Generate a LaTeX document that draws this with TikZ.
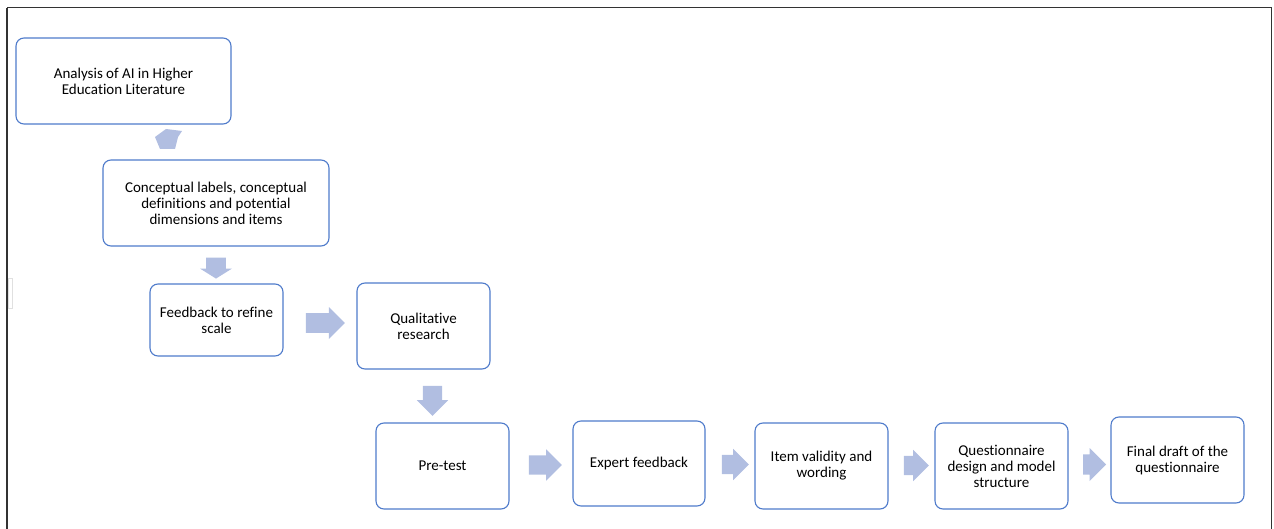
\documentclass[tikz,border=0pt]{standalone}
\usepackage{fontspec}
\setmainfont{Carlito}[Ligatures=CommonOff]
\usetikzlibrary{shapes.arrows}
\definecolor{boxline}{HTML}{4F7BCB}
\definecolor{arrowfill}{HTML}{B1BEE1}
\definecolor{frameline}{HTML}{333333}

\begin{document}
\begin{tikzpicture}[x=1pt,y=-1pt,
  stepbox/.style={draw=boxline,line width=1.1pt,rounded corners=8pt,fill=white,
    align=center,font=\fontsize{15}{16}\selectfont,inner sep=2pt},
  blockarrow/.style={single arrow,fill=arrowfill,draw=none,inner xsep=0pt,
    inner ysep=9.5pt,single arrow head extend=6pt},
  downarrow/.style={blockarrow,shape border rotate=270,inner xsep=9.5pt,inner ysep=0pt}]
\useasboundingbox (0,0) rectangle (1274,529);
% page frame, open at the bottom
\draw[frameline,line width=1.8pt] (7,529)--(7,8);
\draw[frameline,line width=1pt] (7,8)--(1271,8)--(1271,529);
\draw[black!12] (8,278) rectangle (12,308);
% process steps
\node[stepbox,minimum width=215pt,minimum height=86pt] (lit) at (123.5,81) {Analysis of AI in Higher\\Education Literature};
\node[stepbox,minimum width=226pt,minimum height=86pt] (concept) at (216,203) {Conceptual labels, conceptual\\definitions and potential\\dimensions and items};
\node[stepbox,minimum width=133pt,minimum height=72pt] (refine) at (216.5,320) {Feedback to refine\\scale};
\node[stepbox,minimum width=133pt,minimum height=86pt] (qual) at (423.5,326) {Qualitative\\research};
\node[stepbox,minimum width=133pt,minimum height=86pt] (pretest) at (442.5,466) {Pre-test};
\node[stepbox,minimum width=132pt,minimum height=85pt] (expert) at (639,463.5) {Expert feedback};
\node[stepbox,minimum width=133pt,minimum height=86pt] (item) at (821.5,466) {Item validity and\\wording};
\node[stepbox,minimum width=133pt,minimum height=86pt] (design) at (1001.5,466) {Questionnaire\\design and model\\structure};
\node[stepbox,minimum width=133pt,minimum height=86pt] (final) at (1177.5,460) {Final draft of the\\questionnaire};
% block arrows between the steps
\fill[arrowfill] (155,137)--(166,129)--(182,131)--(178,137)--(175,149)--(160,149)--cycle;
\node[downarrow,minimum height=21pt,minimum width=32pt,single arrow tip angle=116] (a2) at (216,265) {};
\node[blockarrow,minimum height=39pt,minimum width=32pt] (a3) at (320.5,323) {};
\node[downarrow,minimum height=30pt,minimum width=31pt] (a4) at (432.5,396) {};
\node[blockarrow,minimum height=33pt,minimum width=31pt] (a5) at (540.5,465) {};
\node[blockarrow,minimum height=27pt,minimum width=31pt] (a6) at (730.5,464.5) {};
\node[blockarrow,minimum height=25pt,minimum width=31pt] (a7) at (911.5,465.5) {};
\node[blockarrow,minimum height=23pt,minimum width=33pt] (a8) at (1089.5,464.5) {};
\end{tikzpicture}
\end{document}
